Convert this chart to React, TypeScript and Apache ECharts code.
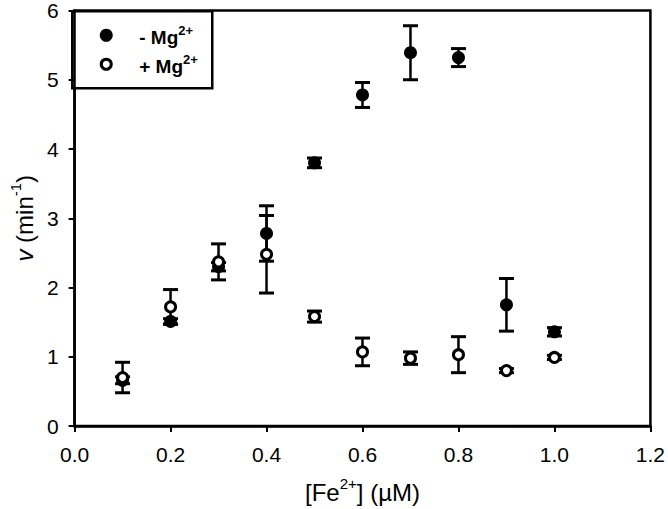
import React, { useEffect, useRef } from "react";
import * as echarts from "echarts";

const fe = [0.1, 0.2, 0.3, 0.4, 0.5, 0.6, 0.7, 0.8, 0.9, 1.0];
const vMinusMg = [0.66, 1.51, 2.3, 2.78, 3.8, 4.78, 5.39, 5.32, 1.75, 1.36];
const errMinusMg = [0.05, 0.04, 0.06, 0.4, 0.07, 0.18, 0.39, 0.13, 0.38, 0.06];
const vPlusMg = [0.7, 1.72, 2.37, 2.48, 1.58, 1.07, 0.98, 1.03, 0.8, 0.99];
const errPlusMg = [0.22, 0.25, 0.26, 0.56, 0.08, 0.2, 0.09, 0.26, 0.03, 0.03];
const xTicks = [0, 0.2, 0.4, 0.6, 0.8, 1.0, 1.2];
const yTicks = [0, 1, 2, 3, 4, 5, 6];

const FONT = "Liberation Sans, Arial, sans-serif";

function errorRender(params: any, api: any) {
  const x = api.value(0);
  const lo = api.value(1);
  const hi = api.value(2);
  const pLo = api.coord([x, lo]);
  const pHi = api.coord([x, hi]);
  const hw = 7.5;
  const style = { stroke: "#000", lineWidth: 2.5 };
  return {
    type: "group",
    children: [
      { type: "line", shape: { x1: pLo[0], y1: pLo[1], x2: pHi[0], y2: pHi[1] }, style },
      { type: "line", shape: { x1: pLo[0] - hw, y1: pLo[1], x2: pLo[0] + hw, y2: pLo[1] }, style: { ...style, lineWidth: 3 } },
      { type: "line", shape: { x1: pHi[0] - hw, y1: pHi[1], x2: pHi[0] + hw, y2: pHi[1] }, style: { ...style, lineWidth: 3 } },
    ],
  };
}

export default function App() {
  const ref = useRef<HTMLDivElement>(null);
  useEffect(() => {
    if (!ref.current) return;
    const chart = echarts.init(ref.current, null, { renderer: "svg" });
    const minusPts = fe.map((x, i) => [x, vMinusMg[i]]);
    const plusPts = fe.map((x, i) => [x, vPlusMg[i]]);
    const minusErr = fe.map((x, i) => [x, vMinusMg[i] - errMinusMg[i], vMinusMg[i] + errMinusMg[i]]);
    const plusErr = fe.map((x, i) => [x, vPlusMg[i] - errPlusMg[i], vPlusMg[i] + errPlusMg[i]]);
    const supRich = {
      main: { fontSize: 24, lineHeight: 28, fontFamily: FONT, color: "#000", verticalAlign: "bottom" },
      it: { fontSize: 24, lineHeight: 28, fontFamily: FONT, color: "#000", fontStyle: "italic", verticalAlign: "bottom" },
      sup: { fontSize: 15, lineHeight: 15, fontFamily: FONT, color: "#000", verticalAlign: "top" },
    };
    const legRich = {
      main: { fontSize: 19, lineHeight: 23, fontFamily: FONT, fontWeight: "bold", color: "#000", verticalAlign: "bottom" },
      sup: { fontSize: 13, lineHeight: 13, fontFamily: FONT, fontWeight: "bold", color: "#000", verticalAlign: "top" },
    };
    chart.setOption({
      animation: false,
      backgroundColor: "#fff",
      grid: {
        left: 71,
        right: 13,
        top: 10,
        bottom: 79,
        show: true,
        borderColor: "#000",
        borderWidth: 2.5,
      },
      xAxis: {
        type: "value",
        min: 0,
        max: 1.2,
        interval: 0.2,
        splitLine: { show: false },
        axisLine: { show: true, lineStyle: { color: "#000", width: 2.5 } },
        axisTick: { show: true, length: 6, lineStyle: { color: "#000", width: 2 } },
        axisLabel: {
          margin: 18,
          fontSize: 21,
          fontFamily: FONT,
          color: "#000",
          formatter: (v: number) => (xTicks.some((t) => Math.abs(t - v) < 1e-9) ? v.toFixed(1) : ""),
        },
        name: "{main|[Fe}{sup|2+}{main|] (µM)}",
        nameLocation: "middle",
        nameGap: 50,
        nameTextStyle: { rich: supRich },
      },
      yAxis: {
        type: "value",
        min: 0,
        max: 6,
        interval: 1,
        splitLine: { show: false },
        axisLine: { show: true, lineStyle: { color: "#000", width: 2.5 } },
        axisTick: { show: true, length: 6, lineStyle: { color: "#000", width: 2 } },
        axisLabel: {
          margin: 16,
          fontSize: 21,
          fontFamily: FONT,
          color: "#000",
          formatter: (v: number) => (yTicks.includes(v) ? String(v) : ""),
        },
        name: "{it|v}{main| (min}{sup|-1}{main|)}",
        nameLocation: "middle",
        nameRotate: 90,
        nameGap: 36,
        nameTextStyle: { rich: supRich },
      },
      series: [
        {
          type: "custom",
          renderItem: errorRender,
          data: minusErr,
          encode: { x: 0, y: [1, 2] },
          z: 2,
        },
        {
          type: "scatter",
          name: "- Mg2+",
          data: minusPts,
          symbol: "circle",
          symbolSize: 13,
          itemStyle: { color: "#000", opacity: 1 },
          z: 3,
        },
        {
          type: "custom",
          renderItem: errorRender,
          data: plusErr,
          encode: { x: 0, y: [1, 2] },
          z: 4,
        },
        {
          type: "scatter",
          name: "+ Mg2+",
          data: plusPts,
          symbol: "circle",
          symbolSize: 10,
          itemStyle: { color: "#fff", borderColor: "#000", borderWidth: 3, opacity: 1 },
          z: 5,
        },
      ],
      graphic: [
        {
          type: "group",
          left: 71,
          top: 10,
          z: 100,
          children: [
            {
              type: "rect",
              shape: { x: 0, y: 0, width: 140, height: 77 },
              style: { fill: "#fff", stroke: "#000", lineWidth: 2.5 },
            },
            { type: "circle", shape: { cx: 34, cy: 24, r: 6.5 }, style: { fill: "#000" } },
            { type: "circle", shape: { cx: 34, cy: 53, r: 5 }, style: { fill: "#fff", stroke: "#000", lineWidth: 3 } },
            {
              type: "text",
              x: 67,
              y: 24,
              style: { text: "{main|- Mg}{sup|2+}", rich: legRich, verticalAlign: "middle", align: "left" },
            },
            {
              type: "text",
              x: 67,
              y: 53,
              style: { text: "{main|+ Mg}{sup|2+}", rich: legRich, verticalAlign: "middle", align: "left" },
            },
          ],
        },
      ],
    });
    return () => chart.dispose();
  }, []);
  return <div ref={ref} style={{ position: "fixed", left: 0, top: 0, width: 668, height: 509 }} />;
}
